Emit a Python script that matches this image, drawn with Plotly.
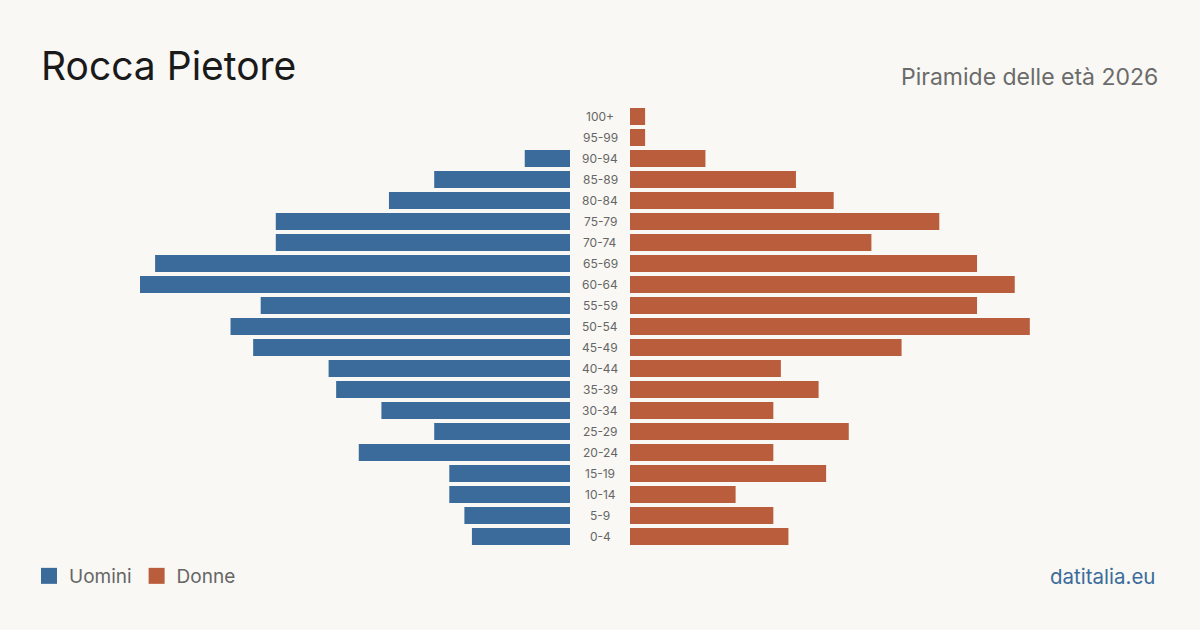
import plotly.graph_objects as go

age_groups = ["0-4", "5-9", "10-14", "15-19", "20-24", "25-29", "30-34", "35-39",
              "40-44", "45-49", "50-54", "55-59", "60-64", "65-69", "70-74",
              "75-79", "80-84", "85-89", "90-94", "95-99", "100+"]
men = [13, 14, 16, 16, 28, 18, 25, 31, 32, 42, 45, 41, 57, 55, 39, 39, 24, 18, 6, 0, 0]
women = [21, 19, 14, 26, 19, 29, 19, 25, 20, 36, 53, 46, 51, 46, 32, 41, 27, 22, 10, 2, 2]

title = "Rocca Pietore"
subtitle = "Piramide delle età 2026"
source = "datitalia.eu"

BLUE = "#3b6b9b"
ORANGE = "#ba5d3d"
BG = "#f9f8f4"
FONT = "Inter, 'Liberation Sans', sans-serif"

W, H = 1200, 630
XMAX = 57

fig = go.Figure()
fig.add_trace(go.Bar(y=age_groups, x=men, orientation="h",
                     marker=dict(color=BLUE, line=dict(width=0)),
                     xaxis="x", yaxis="y", showlegend=False, hoverinfo="x+y"))
fig.add_trace(go.Bar(y=age_groups, x=women, orientation="h",
                     marker=dict(color=ORANGE, line=dict(width=0)),
                     xaxis="x2", yaxis="y2", showlegend=False, hoverinfo="x+y"))
# legend entries
fig.add_trace(go.Scatter(x=[None], y=[None], mode="markers", name="Uomini",
                         marker=dict(symbol="square", size=16, color=BLUE),
                         xaxis="x2", yaxis="y2"))
fig.add_trace(go.Scatter(x=[None], y=[None], mode="markers", name="Donne",
                         marker=dict(symbol="square", size=16, color=ORANGE),
                         xaxis="x2", yaxis="y2"))

ydom = [1 - 547 / H, 1 - 106 / H]
yax = dict(domain=ydom, type="category", categoryorder="array", categoryarray=age_groups,
           showticklabels=False, showgrid=False, zeroline=False, showline=False, ticks="")
fig.update_layout(
    width=W, height=H,
    paper_bgcolor=BG, plot_bgcolor=BG,
    margin=dict(l=0, r=0, t=0, b=0),
    bargap=0.19,
    font=dict(family=FONT, color="#666666"),
    xaxis=dict(domain=[140 / W, 570 / W], range=[XMAX, 0], visible=False, fixedrange=True),
    xaxis2=dict(domain=[630 / W, 1060 / W], range=[0, XMAX], visible=False, fixedrange=True),
    yaxis=dict(**yax, anchor="x"),
    yaxis2=dict(**yax, anchor="x2", matches="y"),
    showlegend=True,
    legend=dict(orientation="h", x=29 / W, xanchor="left", y=1 - 576 / H, yanchor="middle",
                font=dict(size=19, color="#666666", family=FONT), itemsizing="trace",
                bgcolor="rgba(0,0,0,0)", traceorder="normal", itemwidth=30),
)

annotations = []
for g in age_groups:
    annotations.append(dict(x=0.5, xref="paper", y=g, yref="y", text=g, showarrow=False,
                            xanchor="center", yanchor="middle",
                            font=dict(size=12, color="#666666", family=FONT)))
annotations.append(dict(x=39 / W, y=1 - 66 / H, xref="paper", yref="paper", text=title,
                        showarrow=False, xanchor="left", yanchor="middle",
                        font=dict(size=39, color="#1a1a1a", family=FONT)))
annotations.append(dict(x=1160 / W, y=1 - 77 / H, xref="paper", yref="paper", text=subtitle,
                        showarrow=False, xanchor="right", yanchor="middle",
                        font=dict(size=23, color="#6b6b6b", family=FONT)))
annotations.append(dict(x=1157 / W, y=1 - 576 / H, xref="paper", yref="paper", text=source,
                        showarrow=False, xanchor="right", yanchor="middle",
                        font=dict(size=20.5, color=BLUE, family=FONT)))
fig.update_layout(annotations=annotations)

fig.write_html("out.html")
